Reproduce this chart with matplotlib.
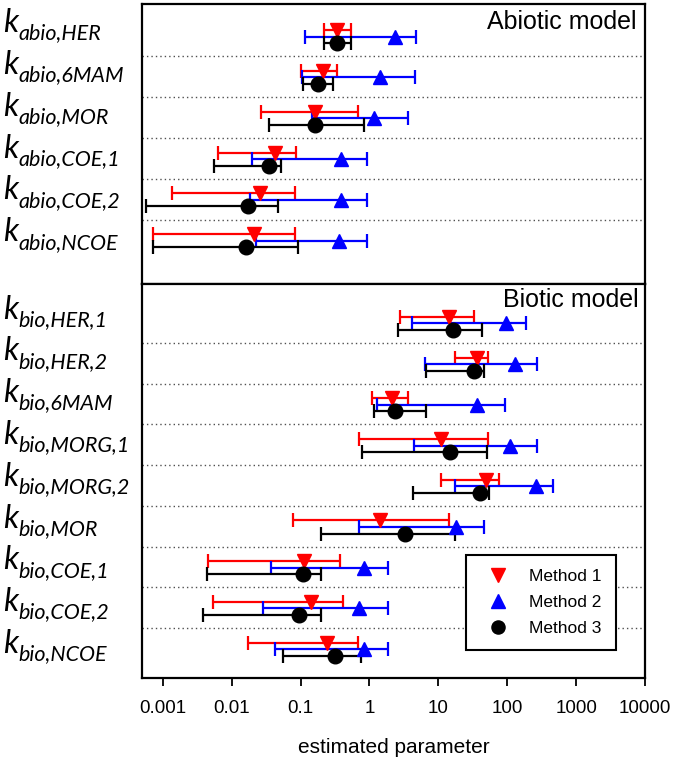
import matplotlib
matplotlib.use('Agg')
import matplotlib.pyplot as plt
import numpy as np

plt.rcParams['font.family'] = ['Liberation Sans', 'DejaVu Sans']

# abiotic model rows
abio_names = ['abio,HER', 'abio,6MAM', 'abio,MOR', 'abio,COE,1', 'abio,COE,2', 'abio,NCOE']
abio_m1 = [0.343, 0.21, 0.161, 0.043, 0.0255, 0.0208]
abio_m1_lo = [0.22, 0.10, 0.0263, 0.00634, 0.00135, 0.00073]
abio_m1_hi = [0.548, 0.333, 0.694, 0.0848, 0.0838, 0.0819]
abio_m2 = [2.38, 1.44, 1.15, 0.393, 0.393, 0.359]
abio_m2_lo = [0.115, 0.106, 0.148, 0.020, 0.0184, 0.0223]
abio_m2_hi = [4.75, 4.53, 3.59, 0.935, 0.935, 0.935]
abio_m3 = [0.34, 0.18, 0.16, 0.0352, 0.0172, 0.0163]
abio_m3_lo = [0.22, 0.108, 0.0347, 0.00548, 0.00057, 0.00073]
abio_m3_hi = [0.548, 0.30, 0.846, 0.0518, 0.0475, 0.0905]

# biotic model rows
bio_names = ['bio,HER,1', 'bio,HER,2', 'bio,6MAM', 'bio,MORG,1', 'bio,MORG,2',
             'bio,MOR', 'bio,COE,1', 'bio,COE,2', 'bio,NCOE']
bio_m1 = [14.4, 36.4, 2.13, 10.9, 48.5, 1.41, 0.112, 0.144, 0.244]
bio_m1_lo = [2.81, 17.2, 1.09, 0.70, 10.8, 0.0766, 0.00459, 0.00536, 0.0175]
bio_m1_hi = [32.5, 52.5, 3.67, 53.1, 74.8, 14.3, 0.38, 0.416, 0.694]
bio_m2 = [94.5, 131, 35.9, 108, 261, 17.8, 0.826, 0.70, 0.826]
bio_m2_lo = [4.2, 6.41, 1.28, 4.39, 17.5, 0.709, 0.0367, 0.0288, 0.042]
bio_m2_hi = [187, 275, 91.4, 275, 469, 46.4, 1.88, 1.88, 1.88]
bio_m3 = [16.1, 33.3, 2.38, 14.9, 40.6, 3.32, 0.107, 0.0957, 0.321]
bio_m3_lo = [2.57, 6.55, 1.17, 0.784, 4.34, 0.2, 0.00444, 0.00384, 0.0548]
bio_m3_hi = [43.4, 46.4, 6.55, 51.3, 54.3, 17.6, 0.2, 0.197, 0.758]

xticks = [0.001, 0.01, 0.1, 1, 10, 100, 1000, 10000]
xticklabels = ['0.001', '0.01', '0.1', '1', '10', '100', '1000', '10000']
methods = ['Method 1', 'Method 2', 'Method 3']

W, H = 675, 769
LABEL_PITCH = 1.027  # row labels are spaced a bit wider than the rows


def px_box(l, t, r, b):
    return [l / W, 1 - b / H, (r - l) / W, (b - t) / H]


def draw_panel(ax, names, series, ylim, title, title_xy):
    y = np.arange(len(names))
    for i in range(len(names) - 1):
        ax.axhline(i + 0.48, color='#505050', lw=1.0, ls=(0, (1, 2.2)), zorder=0)

    styles = [(-0.16, 'red', 'v'), (0.0, 'blue', '^'), (0.16, 'black', 'o')]
    for (vals, lo, hi), (off, c, mk) in zip(series, styles):
        vals = np.array(vals)
        err = [vals - np.array(lo), np.array(hi) - vals]
        ax.errorbar(vals, y + off, xerr=err, fmt='none', ecolor=c,
                    elinewidth=1.6, capsize=5, capthick=1.6, zorder=2)
    for (vals, lo, hi), (off, c, mk), lab in zip(series, styles, methods):
        ax.plot(vals, y + off, ls='none', marker=mk, color=c, ms=10.5,
                label=lab, zorder=3)

    ax.set_xscale('log')
    ax.set_xlim(5e-4, 1e4)
    ax.set_ylim(*ylim)
    ax.set_yticks([])
    ax.minorticks_off()
    for sp in ax.spines.values():
        sp.set_linewidth(1.6)

    # row labels: big italic k with subscript
    tr = ax.get_yaxis_transform()
    for i, nm in enumerate(names):
        yb = i * LABEL_PITCH + 0.06
        ax.text(-0.2763, yb - 0.18, 'k', transform=tr,
                fontsize=23, family='Lato', style='italic', va='baseline',
                ha='left', clip_on=False)
        ax.text(-0.2465, yb, nm, transform=tr,
                fontsize=15.5, family='Lato', style='italic', va='baseline',
                ha='left', clip_on=False)

    ax.text(title_xy[0], title_xy[1], title, transform=ax.transAxes,
            ha='right', va='top', fontsize=18)


fig = plt.figure(figsize=(6.75, 7.69), dpi=100)
ax1 = fig.add_axes(px_box(142, 4, 645, 284))
ax2 = fig.add_axes(px_box(142, 284, 645, 678))

draw_panel(ax1, abio_names,
           [(abio_m1, abio_m1_lo, abio_m1_hi),
            (abio_m2, abio_m2_lo, abio_m2_hi),
            (abio_m3, abio_m3_lo, abio_m3_hi)],
           (6.06, -0.80), 'Abiotic model', (0.984, 0.98))
draw_panel(ax2, bio_names,
           [(bio_m1, bio_m1_lo, bio_m1_hi),
            (bio_m2, bio_m2_lo, bio_m2_hi),
            (bio_m3, bio_m3_lo, bio_m3_hi)],
           (8.71, -0.97), 'Biotic model', (0.988, 0.99))

ax1.tick_params(axis='x', length=0, labelbottom=False)
ax1.set_xticks([])

ax2.set_xticks(xticks)
ax2.set_xticklabels(xticklabels)
ax2.tick_params(axis='x', direction='out', length=5.5, width=1.3,
                labelsize=13.5, pad=10.5)
ax2.set_xlabel('estimated parameter', fontsize=15, labelpad=15)

leg = ax2.legend(loc='upper right', bbox_to_anchor=(0.9418, 0.3122),
                 borderaxespad=0, fontsize=12.5, frameon=True, fancybox=False,
                 framealpha=1, edgecolor='black', handlelength=2.07,
                 handletextpad=0.75, labelspacing=0.62, borderpad=0.8,
                 markerscale=0.9)
leg.get_frame().set_linewidth(1.5)

fig.savefig('out.png', dpi=100)
